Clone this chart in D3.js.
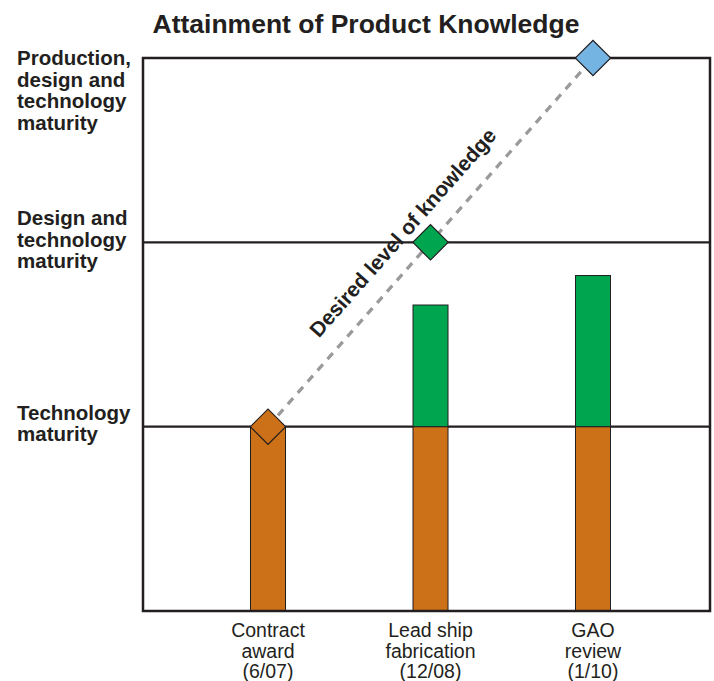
<!DOCTYPE html>
<html>
<head>
<meta charset="utf-8">
<script src="https://cdn.jsdelivr.net/npm/d3@7"></script>
<style>
  body { margin: 0; background: #fff; }
  text { font-family: "Liberation Sans", Arial, Helvetica, sans-serif; fill: #231f20; }
  .title { font-size: 26.5px; font-weight: bold; }
  .level-label { font-size: 20.5px; font-weight: bold; }
  .milestone-label { font-size: 19.5px; }
  .desired-label { font-size: 21px; font-weight: bold; }
</style>
</head>
<body>
<div id="chart"></div>
<script>
// Knowledge levels (y axis)
const levels = [
    { value: 1, lines: ['Technology', 'maturity'] },
    { value: 2, lines: ['Design and', 'technology', 'maturity'] },
    { value: 3, lines: ['Production,', 'design and', 'technology', 'maturity'] }
];

// Milestones (x axis)
const milestones = ['Contract award (6/07)', 'Lead ship fabrication (12/08)', 'GAO review (1/10)'];
const milestoneLines = [
    ['Contract', 'award', '(6/07)'],
    ['Lead ship', 'fabrication', '(12/08)'],
    ['GAO', 'review', '(1/10)']
];

// Attained knowledge per milestone
const technologyKnowledge = [1, 1, 1];
const designKnowledge = [0, 0.66, 0.82];
// Desired level of knowledge per milestone
const desiredKnowledge = [1, 2, 3];

const colors = {
    technology: '#cd7118',
    design: '#00a54f',
    production: '#74b4e3',
    ink: '#231f20',
    dash: '#999a9c'
};
const diamondColors = [colors.technology, colors.design, colors.production];

const width = 714, height = 681;
const plot = { left: 143, right: 710, top: 58, bottom: 611 };

const svg = d3.select('#chart').append('svg')
    .attr('width', width)
    .attr('height', height);

const x = d3.scalePoint()
    .domain(milestones)
    .range([268, 593]);

const y = d3.scaleLinear()
    .domain([0, 3])
    .range([plot.bottom, plot.top]);

const barWidth = 35;

// Title
svg.append('text')
    .attr('class', 'title')
    .attr('x', 366)
    .attr('y', 33)
    .attr('text-anchor', 'middle')
    .text('Attainment of Product Knowledge');

// Level lines
svg.selectAll('.level-line')
    .data(levels.filter(d => d.value < 3))
    .enter().append('line')
    .attr('class', 'level-line')
    .attr('x1', plot.left)
    .attr('x2', plot.right)
    .attr('y1', d => y(d.value))
    .attr('y2', d => y(d.value))
    .attr('stroke', colors.ink)
    .attr('stroke-width', 2.2);

// Level labels (first baseline offset from the level line)
const labelOffsets = { 1: -7, 2: -17, 3: 7 };
levels.forEach(l => {
    const t = svg.append('text')
        .attr('class', 'level-label')
        .attr('x', 17)
        .attr('y', y(l.value) + labelOffsets[l.value]);
    l.lines.forEach((s, i) => {
        t.append('tspan')
            .attr('x', 17)
            .attr('dy', i === 0 ? 0 : 21.5)
            .text(s);
    });
});

// Bars: technology part
svg.selectAll('.bar-tech')
    .data(milestones)
    .enter().append('rect')
    .attr('class', 'bar-tech')
    .attr('x', d => x(d) - barWidth / 2)
    .attr('width', barWidth)
    .attr('y', (d, i) => y(technologyKnowledge[i]))
    .attr('height', (d, i) => y(0) - y(technologyKnowledge[i]))
    .attr('fill', colors.technology)
    .attr('stroke', colors.ink)
    .attr('stroke-width', 1);

// Bars: design part
svg.selectAll('.bar-design')
    .data(milestones.filter((d, i) => designKnowledge[i] > 0))
    .enter().append('rect')
    .attr('class', 'bar-design')
    .attr('x', d => x(d) - barWidth / 2)
    .attr('width', barWidth)
    .attr('y', d => {
        const i = milestones.indexOf(d);
        return y(technologyKnowledge[i] + designKnowledge[i]);
    })
    .attr('height', d => {
        const i = milestones.indexOf(d);
        return y(technologyKnowledge[i]) - y(technologyKnowledge[i] + designKnowledge[i]);
    })
    .attr('fill', colors.design)
    .attr('stroke', colors.ink)
    .attr('stroke-width', 1);

// Plot frame
svg.append('rect')
    .attr('x', plot.left)
    .attr('y', plot.top)
    .attr('width', plot.right - plot.left)
    .attr('height', plot.bottom - plot.top)
    .attr('fill', 'none')
    .attr('stroke', colors.ink)
    .attr('stroke-width', 2.5);

// Desired knowledge line
const desiredPts = milestones.map((d, i) => [x(d), y(desiredKnowledge[i])]);
svg.append('path')
    .attr('d', d3.line()(desiredPts))
    .attr('fill', 'none')
    .attr('stroke', colors.dash)
    .attr('stroke-width', 3.2)
    .attr('stroke-dasharray', '8,7');

// Label along the line
const p0 = desiredPts[0], p2 = desiredPts[2];
const angle = Math.atan2(p2[1] - p0[1], p2[0] - p0[0]) * 180 / Math.PI;
const mid = [(p0[0] + p2[0]) / 2, (p0[1] + p2[1]) / 2];
svg.append('text')
    .attr('class', 'desired-label')
    .attr('transform', `translate(${mid[0]},${mid[1]}) rotate(${angle}) translate(-11,-20)`)
    .attr('text-anchor', 'middle')
    .text('Desired level of knowledge');

// Diamonds
const diamond = d3.symbol().type(d3.symbolSquare).size(25 * 25);
svg.selectAll('.diamond')
    .data(desiredPts)
    .enter().append('path')
    .attr('class', 'diamond')
    .attr('d', diamond)
    .attr('transform', d => `translate(${d[0]},${d[1]}) rotate(45)`)
    .attr('fill', (d, i) => diamondColors[i])
    .attr('stroke', colors.ink)
    .attr('stroke-width', 1.2);

// Milestone labels
milestones.forEach((m, i) => {
    const t = svg.append('text')
        .attr('class', 'milestone-label')
        .attr('text-anchor', 'middle')
        .attr('y', 637);
    milestoneLines[i].forEach((s, j) => {
        t.append('tspan')
            .attr('x', x(m))
            .attr('dy', j === 0 ? 0 : 20.5)
            .text(s);
    });
});
</script>
</body>
</html>
